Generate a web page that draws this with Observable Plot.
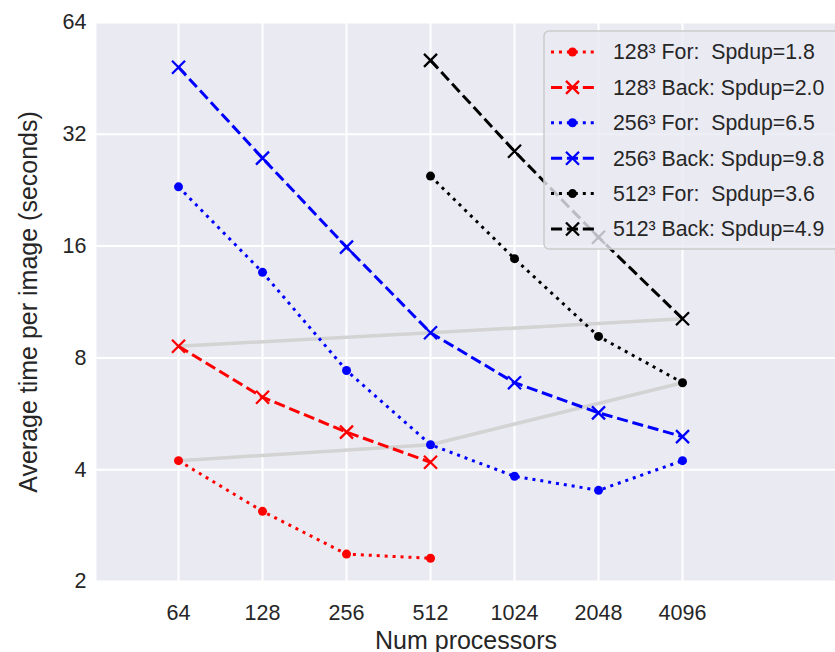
<!DOCTYPE html>
<html><head><meta charset="utf-8">
<script src="https://cdn.jsdelivr.net/npm/d3@7"></script>
<script src="https://cdn.jsdelivr.net/npm/@observablehq/plot@0.6"></script>
<style>
html,body{margin:0;padding:0;background:#fff;}
#chart svg text{white-space:pre;}
</style></head><body><div id="chart"></div>
<script>
// ---- data ----
const procs128 = [64, 128, 256, 512];
const procs256 = [64, 128, 256, 512, 1024, 2048, 4096];
const procs512 = [512, 1024, 2048, 4096];
const for128  = [4.23, 3.09, 2.37, 2.31];
const back128 = [8.6, 6.27, 5.05, 4.19];
const for256  = [23.1, 13.6, 7.4, 4.67, 3.84, 3.52, 4.23];
const back256 = [48.5, 27.6, 15.9, 9.35, 6.86, 5.69, 4.91];
const for512  = [24.7, 14.8, 9.14, 6.86];
const back512 = [50.6, 28.8, 16.9, 10.2];
const seriesLabels = [
  "128³ For:  Spdup=1.8",
  "128³ Back: Spdup=2.0",
  "256³ For:  Spdup=6.5",
  "256³ Back: Spdup=9.8",
  "512³ For:  Spdup=3.6",
  "512³ Back: Spdup=4.9"
];
const seriesColors = ["#ff0000", "#ff0000", "#0000ff", "#0000ff", "#000000", "#000000"];
const seriesKinds = ["for", "back", "for", "back", "for", "back"];
const seriesProcs = [procs128, procs128, procs256, procs256, procs512, procs512];
const seriesTimes = [for128, back128, for256, back256, for512, back512];
// weak-scaling (grey) lines: 128³@64, 256³@512, 512³@4096
const weakProcs = [64, 512, 4096];
const weakFor  = [for128[0], for256[3], for512[3]];
const weakBack = [back128[0], back256[3], back512[3]];
const xTicks = [64, 128, 256, 512, 1024, 2048, 4096];
const yTicks = [2, 4, 8, 16, 32, 64];

// ---- styles ----
const dashFor = "3,4.95";
const dashBack = "11.1,4.8";
const lineW = 3;
const dotR = 4.5;
const timesSym = {draw(ctx, size) { const r = Math.sqrt(size / Math.PI);
  ctx.moveTo(-r, -r); ctx.lineTo(r, r); ctx.moveTo(r, -r); ctx.lineTo(-r, r); }};

const series = seriesLabels.map((label, i) => ({
  label, color: seriesColors[i], kind: seriesKinds[i],
  data: seriesProcs[i].map((p, j) => ({p, t: seriesTimes[i][j]}))
}));
const weakF = weakProcs.map((p, j) => ({p, t: weakFor[j]}));
const weakB = weakProcs.map((p, j) => ({p, t: weakBack[j]}));

const seriesMarks = series.flatMap(s => [
  Plot.line(s.data, {x: "p", y: "t", stroke: s.color, strokeWidth: lineW,
    strokeDasharray: s.kind === "for" ? dashFor : dashBack, strokeLinecap: "butt"}),
  s.kind === "for"
    ? Plot.dot(s.data, {x: "p", y: "t", r: dotR, fill: s.color, stroke: null})
    : Plot.dot(s.data, {x: "p", y: "t", r: 6.5, symbol: timesSym, fill: "none", stroke: s.color, strokeWidth: 2.3})
]);

const chart = Plot.plot({
  width: 835, height: 652,
  marginLeft: 96, marginRight: 0, marginTop: 22, marginBottom: 71,
  style: {fontFamily: "'Liberation Sans', Arial, sans-serif", fontSize: "21.5px", color: "#262626", background: "#fff"},
  x: {type: "log", base: 2, domain: [32.53, 14473]},
  y: {type: "log", base: 2, domain: [2, 64]},
  marks: [
    Plot.frame({fill: "#eaeaf2", stroke: null}),
    Plot.gridX(xTicks, {stroke: "#ffffff", strokeOpacity: 1, strokeWidth: 2}),
    Plot.gridY(yTicks, {stroke: "#ffffff", strokeOpacity: 1, strokeWidth: 2}),
    Plot.line(weakF, {x: "p", y: "t", stroke: "#d3d3d3", strokeWidth: 3.5}),
    Plot.line(weakB, {x: "p", y: "t", stroke: "#d3d3d3", strokeWidth: 3.5}),
    ...seriesMarks,
    Plot.axisX(xTicks, {tickSize: 0, tickPadding: 23, label: null, tickFormat: d => String(d), fontSize: 21.5}),
    Plot.axisY(yTicks, {tickSize: 0, tickPadding: 10, label: null, tickFormat: d => String(d), fontSize: 21.5}),
    Plot.text(["Num processors"], {frameAnchor: "bottom", lineAnchor: "middle", textAnchor: "middle", dy: 59, fontSize: 25, fill: "#262626"}),
    Plot.text(["Average time per image (seconds)"], {frameAnchor: "left", lineAnchor: "middle", textAnchor: "middle", dx: -68, rotate: -90, fontSize: 25, fill: "#262626"})
  ]
});
document.getElementById("chart").appendChild(chart);

// ---- legend (upper right, semi-transparent like matplotlib) ----
const svg = d3.select(chart);
const lg = svg.append("g").attr("font-family", "'Liberation Sans', Arial, sans-serif").attr("text-anchor", "start");
lg.append("rect").attr("x", 544).attr("y", 31).attr("width", 330).attr("height", 218).attr("rx", 5)
  .attr("fill", "#eaeaf2").attr("fill-opacity", 0.8).attr("stroke", "#cccccc").attr("stroke-width", 1.5);
series.forEach((s, i) => {
  const cy = 52 + i * 35.4;
  lg.append("line").attr("x1", 551).attr("x2", 594).attr("y1", cy).attr("y2", cy)
    .attr("stroke", s.color).attr("stroke-width", lineW)
    .attr("stroke-dasharray", s.kind === "for" ? dashFor : dashBack);
  if (s.kind === "for") {
    lg.append("circle").attr("cx", 572.5).attr("cy", cy).attr("r", dotR).attr("fill", s.color);
  } else {
    const r = 6.5;
    lg.append("path").attr("d", `M${572.5 - r},${cy - r}L${572.5 + r},${cy + r}M${572.5 + r},${cy - r}L${572.5 - r},${cy + r}`)
      .attr("stroke", s.color).attr("stroke-width", 2.3).attr("fill", "none");
  }
  lg.append("text").attr("x", 613).attr("y", cy).attr("dy", "0.35em").attr("text-anchor", "start")
    .attr("font-size", 21.3).attr("fill", "#262626").text(s.label);
});
</script></body></html>
